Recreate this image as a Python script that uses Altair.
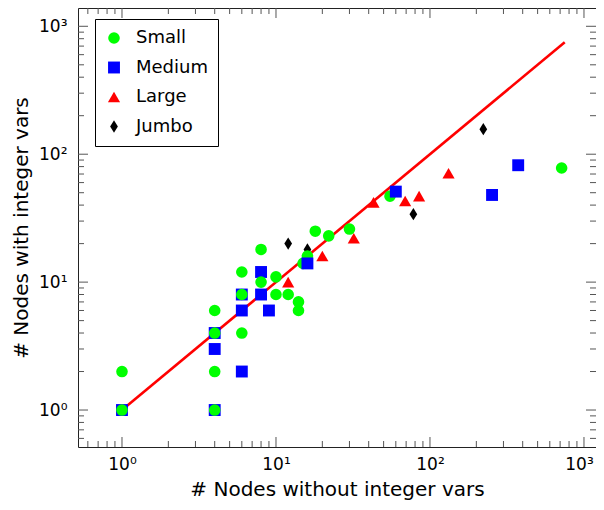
import altair as alt
import pandas as pd

# ---- data ----
small_x = [1, 1, 4, 4, 4, 4, 6, 6, 6, 8, 8, 10, 10, 12, 14, 14, 15, 16, 18, 22, 30, 55, 716]
small_y = [1, 2, 1, 2, 4, 6, 4, 8, 12, 10, 18, 8, 11, 8, 6, 7, 14, 16, 25, 23, 26, 47, 78]
medium_x = [1, 4, 4, 4, 6, 6, 6, 8, 8, 9, 16, 60, 253, 374]
medium_y = [1, 1, 3, 4, 2, 6, 8, 8, 12, 6, 14, 51, 48, 82]
large_x = [12, 20, 32, 43, 69, 85, 132]
large_y = [10, 16, 22, 42, 43, 47, 71]
jumbo_x = [12, 16, 78, 222]
jumbo_y = [20, 18, 34, 157]
line_x = [1, 750]
line_y = [1, 750]

classes = ["Small", "Medium", "Large", "Jumbo"]
colors = ["#00ff00", "#0000ff", "#ff0000", "#000000"]
shapes = ["circle", "square", "triangle-up", "M0,-1L0.62,0L0,1L-0.62,0Z"]
sizes = [135, 155, 130, 170]

major_ticks = [1, 10, 100, 1000]
x_domain = [0.518, 1197]
y_domain = [0.514, 1390]

W, H = 518, 439
FONT = "DejaVu Sans"


def rows(xs, ys, cls):
    return [{"x": a, "y": b, "cls": cls} for a, b in zip(xs, ys)]


# drawing order as seen in the picture
pts = pd.DataFrame(
    rows(jumbo_x, jumbo_y, "Jumbo")
    + rows(large_x, large_y, "Large")
    + rows(medium_x[:10], medium_y[:10], "Medium")
    + rows(small_x, small_y, "Small")
    + rows(medium_x[10:], medium_y[10:], "Medium")
)
line_df = pd.DataFrame({"x": line_x, "y": line_y})


def minor_in(dom):
    out = []
    for k in (-1, 0, 1, 2, 3):
        for m in range(2, 10):
            v = m * 10 ** k
            if dom[0] < v < dom[1]:
                out.append(v)
    return out


xmaj = pd.DataFrame({"x": major_ticks})
xmin = pd.DataFrame({"x": minor_in(x_domain)})
ymaj = pd.DataFrame({"y": major_ticks})
ymin = pd.DataFrame({"y": minor_in(y_domain)})

xscale = alt.Scale(type="log", domain=x_domain, nice=False)
yscale = alt.Scale(type="log", domain=y_domain, nice=False)

sup = "'10' + (datum.value == 1 ? '⁰' : datum.value == 10 ? '¹' : datum.value == 100 ? '²' : '³')"
xaxis = alt.Axis(values=major_ticks, labelExpr=sup, ticks=False, tickSize=0, domain=False,
                 grid=False, labelPadding=9, title="# Nodes without integer vars",
                 titlePadding=7,
                 labelOffset={"condition": {"test": "datum.value == 1000", "value": -5},
                              "value": 0})
yaxis = alt.Axis(values=major_ticks, labelExpr=sup, ticks=False, tickSize=0, domain=False,
                 grid=False, labelPadding=11, title="# Nodes with integer vars",
                 titlePadding=7)

X = alt.X("x:Q", scale=xscale, axis=xaxis)
Y = alt.Y("y:Q", scale=yscale, axis=yaxis)

legend = alt.Legend(orient="none", legendX=17, legendY=11, title=None,
                    strokeColor="black", fillColor="white", padding=10,
                    labelFontSize=18, labelFont=FONT, rowPadding=11.5,
                    labelOffset=13, symbolStrokeWidth=0)

line = alt.Chart(line_df).mark_line(color="#ff0000", strokeWidth=2.6).encode(x=X, y=Y)

points = alt.Chart(pts).mark_point(filled=True, opacity=1, strokeWidth=0).encode(
    x=X,
    y=Y,
    color=alt.Color("cls:N", scale=alt.Scale(domain=classes, range=colors), legend=legend),
    shape=alt.Shape("cls:N", scale=alt.Scale(domain=classes, range=shapes), legend=legend),
    size=alt.Size("cls:N", scale=alt.Scale(domain=classes, range=sizes), legend=legend),
)

tick_color = "#555555"


def xticks(df, length):
    b = alt.Chart(df).mark_rule(color=tick_color, strokeWidth=1).encode(
        x=X, y=alt.value(H), y2=alt.value(H - length))
    t = alt.Chart(df).mark_rule(color=tick_color, strokeWidth=1).encode(
        x=X, y=alt.value(0), y2=alt.value(length))
    return [b, t]


def yticks(df, length):
    l = alt.Chart(df).mark_rule(color=tick_color, strokeWidth=1).encode(
        y=Y, x=alt.value(0), x2=alt.value(length))
    r = alt.Chart(df).mark_rule(color=tick_color, strokeWidth=1).encode(
        y=Y, x=alt.value(W), x2=alt.value(W - length))
    return [l, r]


layers = (xticks(xmaj, 10) + xticks(xmin, 6) + yticks(ymaj, 10) + yticks(ymin, 6)
          + [line, points])

chart = alt.layer(*layers).properties(
    width=W, height=H,
    autosize=alt.AutoSizeParams(type="none"),
    padding={"left": 70, "top": 0, "right": 0, "bottom": 60},
).configure_view(
    stroke="#222222", strokeWidth=1
).configure_axis(
    labelFont=FONT, labelFontSize=17, labelColor="black",
    titleFont=FONT, titleFontSize=20, titleFontWeight="normal", titleColor="black",
)

chart.save("out.html", embed_options={"renderer": "svg", "actions": False})
